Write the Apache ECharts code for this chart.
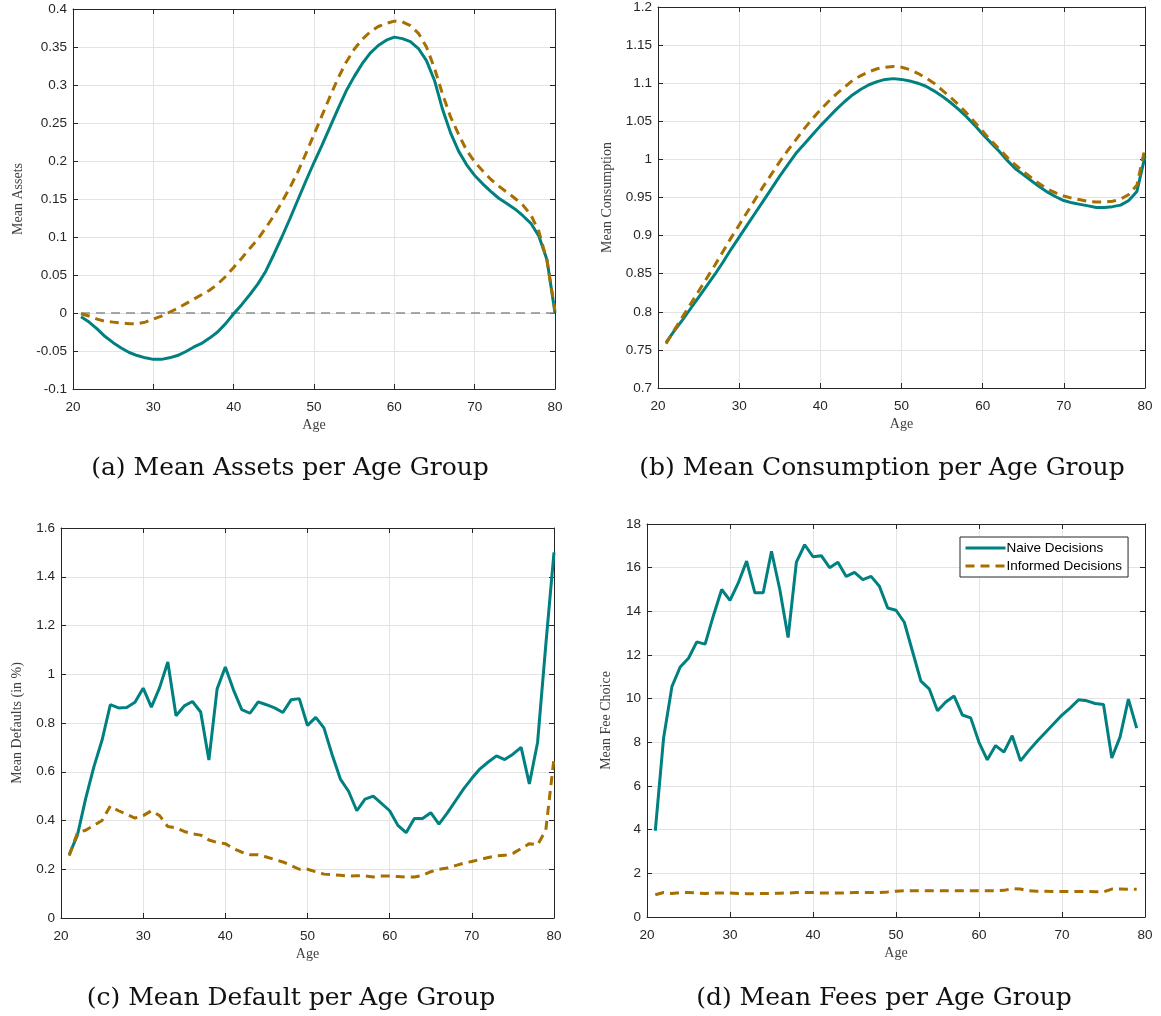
<!DOCTYPE html>
<html>
<head>
<meta charset="utf-8">
<script src="https://cdn.jsdelivr.net/npm/echarts@6/dist/echarts.min.js"></script>
<style>
html,body{margin:0;padding:0;background:#fff;}
#chart{width:1161px;height:1016px;}
</style>
</head>
<body>
<div id="chart"></div>
<script>
// ---------- DATA ----------
const ages = [21,22,23,24,25,26,27,28,29,30,31,32,33,34,35,36,37,38,39,40,41,42,43,44,45,46,47,48,49,50,51,52,53,54,55,56,57,58,59,60,61,62,63,64,65,66,67,68,69,70,71,72,73,74,75,76,77,78,79,80];
const agesFee = [21,22,23,24,25,26,27,28,29,30,31,32,33,34,35,36,37,38,39,40,41,42,43,44,45,46,47,48,49,50,51,52,53,54,55,56,57,58,59,60,61,62,63,64,65,66,67,68,69,70,71,72,73,74,75,76,77,78,79];

const assetsNaive = [-0.005,-0.012,-0.021,-0.031,-0.039,-0.046,-0.052,-0.056,-0.059,-0.061,-0.061,-0.059,-0.056,-0.051,-0.045,-0.040,-0.033,-0.025,-0.014,-0.001,0.011,0.024,0.038,0.055,0.077,0.100,0.124,0.149,0.174,0.198,0.221,0.245,0.269,0.292,0.311,0.328,0.342,0.352,0.359,0.363,0.361,0.357,0.348,0.332,0.306,0.268,0.237,0.213,0.195,0.181,0.170,0.160,0.151,0.144,0.137,0.128,0.118,0.101,0.070,0.000];
const assetsInformed = [-0.001,-0.004,-0.008,-0.011,-0.012,-0.013,-0.014,-0.014,-0.012,-0.008,-0.004,0.001,0.006,0.012,0.018,0.024,0.030,0.038,0.048,0.060,0.072,0.085,0.097,0.112,0.128,0.146,0.165,0.186,0.210,0.235,0.260,0.285,0.309,0.330,0.347,0.360,0.370,0.377,0.381,0.384,0.383,0.378,0.368,0.350,0.322,0.288,0.258,0.235,0.214,0.199,0.187,0.176,0.167,0.159,0.151,0.142,0.129,0.107,0.069,0.003];
const zeroLineX = [21,80];
const zeroLineY = [0,0];

const consNaive = [0.760,0.775,0.789,0.804,0.819,0.834,0.849,0.865,0.882,0.898,0.914,0.930,0.946,0.962,0.978,0.993,1.008,1.020,1.032,1.044,1.055,1.066,1.076,1.085,1.092,1.098,1.102,1.105,1.106,1.105,1.103,1.100,1.096,1.090,1.083,1.075,1.066,1.056,1.045,1.033,1.022,1.011,0.999,0.988,0.980,0.972,0.964,0.957,0.951,0.946,0.943,0.941,0.939,0.937,0.937,0.938,0.940,0.946,0.958,1.004];
const consInformed = [0.758,0.776,0.793,0.810,0.827,0.844,0.861,0.879,0.897,0.914,0.931,0.948,0.965,0.981,0.997,1.012,1.026,1.040,1.053,1.065,1.076,1.086,1.095,1.104,1.110,1.115,1.119,1.121,1.122,1.121,1.118,1.113,1.107,1.100,1.091,1.082,1.072,1.061,1.049,1.037,1.025,1.014,1.003,0.993,0.984,0.976,0.968,0.961,0.956,0.952,0.949,0.947,0.945,0.944,0.944,0.945,0.948,0.954,0.966,1.015];

const defNaive = [0.26,0.34,0.49,0.62,0.73,0.875,0.862,0.864,0.885,0.943,0.865,0.945,1.05,0.83,0.87,0.888,0.845,0.648,0.94,1.03,0.935,0.855,0.84,0.887,0.875,0.862,0.843,0.895,0.90,0.79,0.823,0.78,0.67,0.57,0.52,0.44,0.488,0.50,0.47,0.44,0.38,0.35,0.408,0.408,0.432,0.385,0.43,0.48,0.53,0.573,0.612,0.64,0.665,0.65,0.672,0.70,0.55,0.72,1.12,1.50];
const defInformed = [0.255,0.35,0.36,0.38,0.40,0.46,0.44,0.425,0.41,0.42,0.44,0.42,0.375,0.37,0.355,0.345,0.34,0.32,0.31,0.305,0.285,0.27,0.26,0.26,0.25,0.24,0.23,0.215,0.20,0.20,0.19,0.18,0.178,0.175,0.172,0.173,0.173,0.168,0.172,0.172,0.17,0.168,0.168,0.175,0.19,0.20,0.205,0.215,0.225,0.232,0.24,0.248,0.255,0.257,0.265,0.285,0.305,0.30,0.36,0.655];

const feeNaive = [3.95,8.2,10.55,11.45,11.85,12.6,12.5,13.8,15.0,14.5,15.3,16.3,14.85,14.85,16.75,15.0,12.8,16.25,17.05,16.5,16.55,16.0,16.25,15.6,15.78,15.45,15.6,15.15,14.15,14.05,13.5,12.15,10.8,10.45,9.45,9.85,10.12,9.25,9.12,8.0,7.2,7.85,7.55,8.3,7.15,7.62,8.05,8.45,8.85,9.25,9.58,9.95,9.9,9.78,9.73,7.28,8.25,9.98,8.65];
const feeInformed = [1.02,1.12,1.08,1.12,1.12,1.1,1.08,1.1,1.1,1.1,1.08,1.07,1.07,1.08,1.08,1.09,1.1,1.12,1.12,1.12,1.1,1.1,1.1,1.1,1.12,1.12,1.12,1.12,1.15,1.18,1.2,1.2,1.2,1.2,1.2,1.2,1.2,1.2,1.2,1.2,1.2,1.2,1.22,1.3,1.28,1.2,1.18,1.18,1.17,1.17,1.17,1.17,1.17,1.16,1.15,1.28,1.28,1.27,1.27];

const seriesNames = ['Naive Decisions','Informed Decisions'];
const yNames = ['Mean Assets','Mean Consumption','Mean Defaults (in %)','Mean Fee Choice'];
const xName = 'Age';
const captions = ['(a) Mean Assets per Age Group','(b) Mean Consumption per Age Group','(c) Mean Default per Age Group','(d) Mean Fees per Age Group'];
const yMin = [-0.1,0.7,0,0];
const yMax = [0.4,1.2,1.6,18];
const yStep = [0.05,0.05,0.2,2];
const xMin = 20, xMax = 80, xStep = 10;

// ---------- STYLE ----------
const TEAL = '#008080';
const BROWN = '#a66f00';
const AXC = '#262626';
const GRIDC = '#e3e3e3';
const SANS = '"Liberation Sans", Arial, Helvetica, sans-serif';
const SERIF = '"Liberation Serif", "DejaVu Serif", serif';
const CAPSERIF = '"DejaVu Serif", "Liberation Serif", serif';

const grids = [
  {left:73, top:9, width:482, height:380},
  {left:658, top:4, width:487, height:384},
  {left:61, top:528, width:493, height:390},
  {left:647, top:524, width:498, height:393}
];
const yNameGap = [48,44,37,34];
const capPos = [{x:285,y:451},{x:877,y:451},{x:286,y:981},{x:879,y:981}];

function pairs(xs, ys){ return xs.map((x,i)=>[x,ys[i]]); }
function fmt(v){ return String(+v.toFixed(3)); }

const xAxes = [], yAxes = [];
for (let i=0;i<4;i++){
  xAxes.push({
    type:'value', gridIndex:i, min:xMin, max:xMax, interval:xStep, position:'bottom',
    name:xName, nameLocation:'middle', nameGap:29,
    nameTextStyle:{fontFamily:SERIF, fontSize:14, color:'#404040'},
    axisLine:{show:true, onZero:false, lineStyle:{color:AXC, width:1}},
    axisTick:{show:true, inside:true, length:5, lineStyle:{color:AXC}},
    axisLabel:{show:true, color:AXC, fontFamily:SANS, fontSize:13.5, margin:11, formatter:fmt},
    splitLine:{show:true, lineStyle:{color:GRIDC, width:1}}
  });
  yAxes.push({
    type:'value', gridIndex:i, min:yMin[i], max:yMax[i], interval:yStep[i], position:'left',
    name:yNames[i], nameLocation:'middle', nameGap:yNameGap[i], nameRotate:90,
    nameTextStyle:{fontFamily:SERIF, fontSize:14, color:'#404040'},
    axisLine:{show:true, onZero:false, lineStyle:{color:AXC, width:1}},
    axisTick:{show:true, inside:true, length:5, lineStyle:{color:AXC}},
    axisLabel:{show:true, color:AXC, fontFamily:SANS, fontSize:13.5, margin:6, formatter:fmt},
    splitLine:{show:true, lineStyle:{color:GRIDC, width:1}}
  });
}
for (let i=0;i<4;i++){
  xAxes.push({
    type:'value', gridIndex:i, min:xMin, max:xMax, interval:xStep, position:'top',
    axisLine:{show:true, onZero:false, lineStyle:{color:AXC, width:1}},
    axisTick:{show:true, inside:true, length:5, lineStyle:{color:AXC}},
    axisLabel:{show:false}, splitLine:{show:false}
  });
  yAxes.push({
    type:'value', gridIndex:i, min:yMin[i], max:yMax[i], interval:yStep[i], position:'right',
    axisLine:{show:true, onZero:false, lineStyle:{color:AXC, width:1}},
    axisTick:{show:true, inside:true, length:5, lineStyle:{color:AXC}},
    axisLabel:{show:false}, splitLine:{show:false}
  });
}

function naive(i, xs, ys, name){
  return {type:'line', name:name, xAxisIndex:i, yAxisIndex:i, data:pairs(xs,ys),
    showSymbol:false, symbol:'none', animation:false, z:3,
    lineStyle:{color:TEAL, width:3, type:'solid'}, itemStyle:{color:TEAL}};
}
function informed(i, xs, ys, name){
  return {type:'line', name:name, xAxisIndex:i, yAxisIndex:i, data:pairs(xs,ys),
    showSymbol:false, symbol:'none', animation:false, z:4,
    lineStyle:{color:BROWN, width:3, type:[9,6]}, itemStyle:{color:BROWN}};
}

const series = [
  {type:'line', xAxisIndex:0, yAxisIndex:0, data:pairs(zeroLineX, zeroLineY), showSymbol:false, symbol:'none',
   animation:false, z:2, silent:true, lineStyle:{color:'#8c8c8c', width:1.6, type:[9,6]}},
  naive(0, ages, assetsNaive, 'a-naive'), informed(0, ages, assetsInformed, 'a-informed'),
  naive(1, ages, consNaive, 'b-naive'), informed(1, ages, consInformed, 'b-informed'),
  naive(2, ages, defNaive, 'c-naive'), informed(2, ages, defInformed, 'c-informed'),
  naive(3, agesFee, feeNaive, seriesNames[0]), informed(3, agesFee, feeInformed, seriesNames[1])
];

const titles = captions.map((c,i)=>({
  text:c, left:capPos[i].x, top:capPos[i].y, textAlign:'center',
  textStyle:{fontFamily:CAPSERIF, fontSize:25, fontWeight:'normal', color:'#111'}
}));

const option = {
  backgroundColor:'#fff',
  animation:false,
  title:titles,
  grid:grids.map(g=>Object.assign({containLabel:false}, g)),
  xAxis:xAxes, yAxis:yAxes,
  legend:{
    data:[seriesNames[0], seriesNames[1]],
    orient:'vertical', left:960, top:537,
    itemWidth:40, itemHeight:14, itemGap:4,
    padding:[4,6,4,4],
    backgroundColor:'#fff', borderColor:AXC, borderWidth:1, borderRadius:0,
    itemStyle:{opacity:0},
    lineStyle:{width:3},
    textStyle:{fontFamily:SANS, fontSize:13.5, color:'#000', padding:[0,0,0,-4]}
  },
  series:series
};

const chart = echarts.init(document.getElementById('chart'), null, {renderer:'canvas'});
chart.setOption(option);
</script>
</body>
</html>
